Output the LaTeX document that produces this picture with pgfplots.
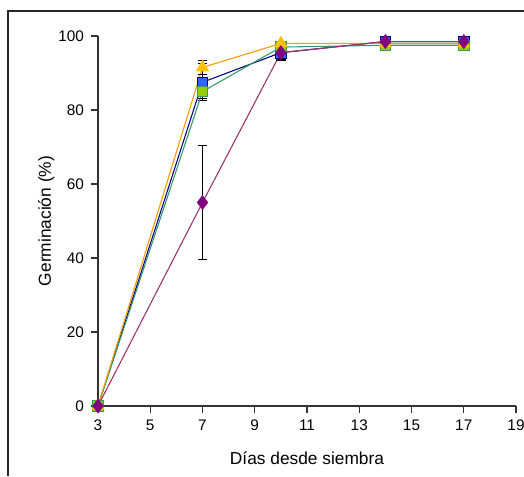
\documentclass[border=0pt]{standalone}
\usepackage{pgfplots}
\pgfplotsset{compat=1.18}
\usepackage{fontspec}
\setmainfont{Liberation Sans}
\definecolor{corange}{HTML}{FF9900}
\definecolor{cgold}{HTML}{FFC000}
\definecolor{cnavy}{HTML}{000080}
\definecolor{cblue}{HTML}{3366FF}
\definecolor{cseag}{HTML}{339966}
\definecolor{clime}{HTML}{99CC00}
\definecolor{cpurp}{HTML}{800080}
\definecolor{cplum}{HTML}{993366}
\begin{document}
\begin{tikzpicture}[x=0.75pt,y=0.75pt]
\useasboundingbox (-98,-70) rectangle (426,406);
\draw[line width=1.2pt, black!85] (-90,-70) -- (-90,395) -- (426,395);
\begin{axis}[
  at={(0,0)}, anchor=origin,
  scale only axis, width=313.5pt, height=277.5pt,
  xmin=3, xmax=19, ymin=0, ymax=100,
  axis x line=bottom, axis y line=left,
  axis line style={black!80, line width=0.8pt, -},
  xtick={3,5,...,19}, ytick={0,20,...,100},
  tick style={black!80, line width=0.8pt},
  tick align=outside, major tick length=5pt,
  tick label style={font=\fontsize{11.5}{13}\selectfont},
  xticklabel style={yshift=-2pt},
  yticklabel style={xshift=-2pt},
  /pgf/number format/assume math mode=true,
  xlabel={Días desde siembra}, ylabel={Germinación (\%)},
  label style={font=\fontsize{13}{15}\selectfont},
  xlabel style={yshift=-9pt},
  ylabel style={yshift=-4pt},
  clip=false,
  error bars/error bar style={black, line width=0.8pt},
  error bars/error mark options={rotate=90, mark size=3.5pt, black, line width=0.8pt},
]
% blue
\addplot[cnavy, line width=0.8pt, mark=square*, mark size=4pt, mark options={fill=cblue, draw=cnavy, line width=0.6pt},
  error bars/.cd, y dir=both, y explicit]
  coordinates {(3,0) +- (0,0) (7,87.5) +- (0,5) (10,95.5) +- (0,1.8) (14,98.5) +- (0,0) (17,98.5) +- (0,0)};
% green
\addplot[cseag, line width=0.8pt, mark=square*, mark size=4pt, mark options={fill=clime, draw=cseag, line width=0.6pt},
  error bars/.cd, y dir=both, y explicit]
  coordinates {(3,0) +- (0,0) (7,85) +- (0,2) (10,97) +- (0,1) (14,97.5) +- (0,0) (17,97.5) +- (0,0)};
% orange
\addplot[corange, line width=0.8pt, mark=triangle*, mark size=5pt, mark options={fill=cgold, draw=cgold},
  error bars/.cd, y dir=both, y explicit]
  coordinates {(3,0) +- (0,0) (7,91.5) +- (0,1.8) (10,98) +- (0,0.5) (14,98) +- (0,0) (17,98) +- (0,0)};
% purple
\addplot[cplum, line width=0.8pt, mark=diamond*, mark size=5pt, mark options={fill=cpurp, draw=cpurp},
  error bars/.cd, y dir=both, y explicit]
  coordinates {(3,0) +- (0,0) (7,55) +- (0,15.5) (10,95.5) +- (0,2) (14,98.5) +- (0,0) (17,98.5) +- (0,0)};
\end{axis}
\end{tikzpicture}
\end{document}
